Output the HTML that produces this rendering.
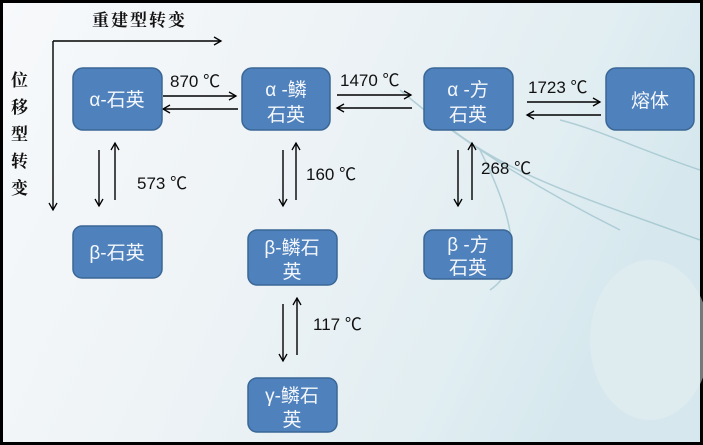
<!DOCTYPE html>
<html><head><meta charset="utf-8"><style>
html,body{margin:0;padding:0;}
body{width:703px;height:445px;overflow:hidden;background:#000;}
</style></head><body>
<svg width="703" height="445" viewBox="0 0 703 445" xmlns="http://www.w3.org/2000/svg" style="display:block">
<defs>
<linearGradient id="bg" x1="0" y1="0" x2="1" y2="0.3">
<stop offset="0" stop-color="#f7f9fb"/>
<stop offset="0.45" stop-color="#eef3f6"/>
<stop offset="0.8" stop-color="#e2eef2"/>
<stop offset="1" stop-color="#d6e8ee"/>
</linearGradient>
<marker id="a" markerWidth="10" markerHeight="10" refX="8" refY="5" orient="auto" markerUnits="userSpaceOnUse">
<path d="M1,1 L8,5 L1,9" fill="none" stroke="#000" stroke-width="1.3"/>
</marker>
</defs>
<rect x="3" y="3" width="697" height="439" fill="url(#bg)"/>
<g stroke="#8fb9c4" stroke-width="1.5" fill="none" opacity="0.6">
<path d="M400,90 C470,150 560,200 620,230"/>
<path d="M440,120 C500,170 560,190 700,240"/>
<path d="M480,150 C520,230 520,270 490,290"/>
<path d="M560,120 C600,130 640,150 700,170"/>
</g>
<ellipse cx="650" cy="340" rx="60" ry="80" fill="#e6eff2" opacity="0.5"/>
<g font-family="'Liberation Serif','Noto Serif CJK SC',serif" font-weight="bold" font-size="17" fill="#111">
<text x="92" y="26" letter-spacing="2">重建型转变</text>
<text x="11" y="86">位</text>
<text x="11" y="113">移</text>
<text x="11" y="140">型</text>
<text x="11" y="167">转</text>
<text x="11" y="194">变</text>
</g>
<g stroke="#000" stroke-width="1.4" fill="none">
<line x1="53" y1="41" x2="221" y2="41" marker-end="url(#a)"/>
<line x1="53" y1="41" x2="53" y2="210" marker-end="url(#a)"/>
<line x1="163" y1="96" x2="236" y2="96" marker-end="url(#a)"/>
<line x1="238" y1="109" x2="163" y2="109" marker-end="url(#a)"/>
<line x1="337" y1="95" x2="411" y2="95" marker-end="url(#a)"/>
<line x1="412" y1="108" x2="337" y2="108" marker-end="url(#a)"/>
<line x1="527" y1="102" x2="600" y2="102" marker-end="url(#a)"/>
<line x1="601" y1="115" x2="527" y2="115" marker-end="url(#a)"/>
<line x1="99" y1="150" x2="99" y2="206" marker-end="url(#a)"/>
<line x1="115" y1="200" x2="115" y2="143" marker-end="url(#a)"/>
<line x1="283" y1="150" x2="283" y2="206" marker-end="url(#a)"/>
<line x1="296" y1="200" x2="296" y2="143" marker-end="url(#a)"/>
<line x1="458" y1="150" x2="458" y2="206" marker-end="url(#a)"/>
<line x1="472" y1="200" x2="472" y2="143" marker-end="url(#a)"/>
<line x1="283" y1="304" x2="283" y2="361" marker-end="url(#a)"/>
<line x1="297" y1="355" x2="297" y2="298" marker-end="url(#a)"/>
</g>
<g fill="#4f81bd" stroke="#3a6796" stroke-width="1.5">
<rect x="73" y="68" width="89" height="62" rx="10"/>
<rect x="242" y="68" width="88" height="62" rx="10"/>
<rect x="424" y="68" width="89" height="62" rx="10"/>
<rect x="606" y="68" width="88" height="62" rx="10"/>
<rect x="73" y="226" width="89" height="52" rx="9"/>
<rect x="248" y="230" width="89" height="55" rx="9"/>
<rect x="424" y="230" width="88" height="49" rx="9"/>
<rect x="248" y="378" width="89" height="54" rx="9"/>
</g>
<g font-family="'Liberation Sans','Noto Sans CJK SC',sans-serif" font-size="19" fill="#f4f7fb" text-anchor="middle">
<text x="117" y="106">α-石英</text>
<text x="286" y="96">α -鳞</text>
<text x="286" y="121">石英</text>
<text x="468" y="96">α -方</text>
<text x="468" y="121">石英</text>
<text x="650" y="107">熔体</text>
<text x="117" y="259">β-石英</text>
<text x="292" y="254">β-鳞石</text>
<text x="292" y="278">英</text>
<text x="468" y="251">β -方</text>
<text x="468" y="274">石英</text>
<text x="292" y="402">γ-鳞石</text>
<text x="292" y="426">英</text>
</g>
<g font-family="'Liberation Sans','Noto Sans CJK SC',sans-serif" font-size="17" fill="#111">
<text x="170" y="87">870 ℃</text>
<text x="340" y="86">1470 ℃</text>
<text x="528" y="93">1723 ℃</text>
<text x="137" y="189">573 ℃</text>
<text x="306" y="180">160 ℃</text>
<text x="481" y="174">268 ℃</text>
<text x="313" y="330">117 ℃</text>
</g>
</svg>
</body></html>
